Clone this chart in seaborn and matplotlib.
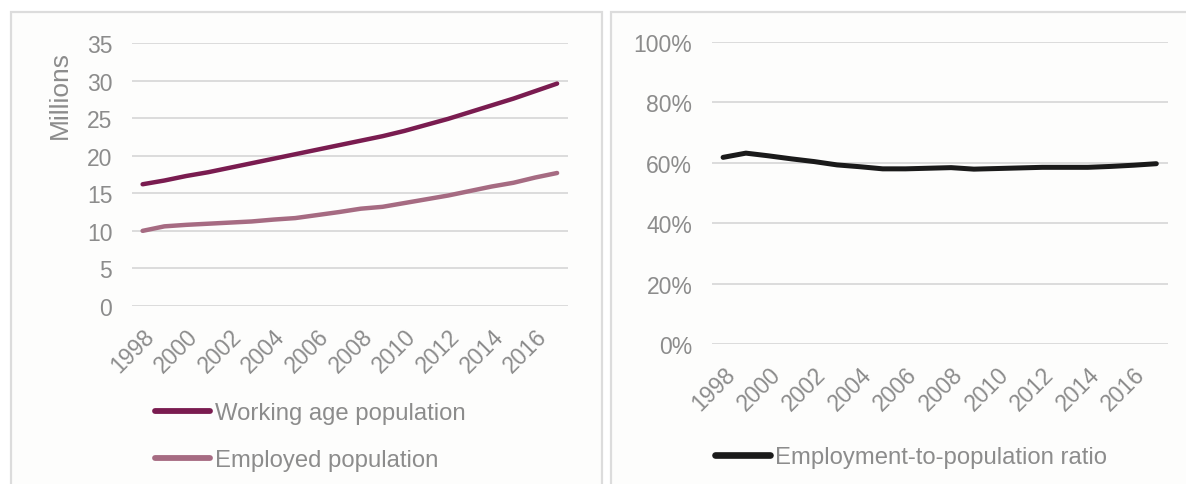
import matplotlib
matplotlib.use("Agg")
import matplotlib.pyplot as plt
from matplotlib.patches import Rectangle
from matplotlib.ticker import FuncFormatter, MultipleLocator
import numpy as np
import pandas as pd
import seaborn as sns

years = list(range(1998, 2018))
working_age = [16.2, 16.7, 17.3, 17.8, 18.4, 19.0, 19.6, 20.2, 20.8, 21.4,
               22.0, 22.6, 23.3, 24.1, 24.9, 25.8, 26.7, 27.6, 28.6, 29.6]
employed = [10.0, 10.6, 10.8, 10.95, 11.1, 11.25, 11.5, 11.7, 12.1, 12.5,
            12.95, 13.2, 13.7, 14.2, 14.7, 15.3, 15.9, 16.4, 17.1, 17.7]
ratio = [61.8, 63.2, 62.3, 61.3, 60.4, 59.3, 58.7, 58.0, 58.0, 58.2,
         58.4, 57.9, 58.1, 58.3, 58.5, 58.5, 58.5, 58.8, 59.2, 59.7]
tick_labels = [str(y) for y in years[::2]]

C_WORK = "#7a1c50"
C_EMP = "#a66b82"
C_RATIO = "#1a1a1a"
C_TEXT = "#8c8c8c"
C_GRID = "#d9d9d9"

sns.set_style("white")
plt.rcParams["font.family"] = ["Liberation Sans", "DejaVu Sans"]

W, H = 1186, 485
fig = plt.figure(figsize=(W / 100, H / 100), dpi=100)
fig.patch.set_facecolor("white")

# panel frames
for x0, x1 in [(11, 602), (611, 1200)]:
    fig.add_artist(Rectangle((x0 / W, 0 - 0.05), (x1 - x0) / W, (H - 13) / H + 0.05,
                             transform=fig.transFigure, facecolor="#fdfdfc",
                             edgecolor="#dcdcdc", linewidth=1.6, zorder=0))

pop = pd.DataFrame({
    "idx": list(range(len(years))) * 2,
    "value": working_age + employed,
    "series": ["Working age population"] * len(years) + ["Employed population"] * len(years),
})
rat = pd.DataFrame({"idx": range(len(years)), "value": ratio,
                    "series": "Employment-to-population ratio"})

TICK_FS = 16.5
LEG_FS = 17.2

def style_axis(ax):
    ax.set_facecolor("none")
    for s in ax.spines.values():
        s.set_visible(False)
    ax.grid(axis="y", color=C_GRID, linewidth=1.3)
    ax.grid(axis="x", visible=False)
    ax.set_axisbelow(True)
    ax.set_xlim(-0.5, len(years) - 0.5)
    ax.set_xticks(range(0, len(years), 2))
    ax.set_xticklabels(tick_labels, rotation=45, ha="right", rotation_mode="anchor")
    ax.tick_params(axis="both", length=0, labelsize=TICK_FS, labelcolor=C_TEXT)
    ax.tick_params(axis="x", pad=13)
    ax.tick_params(axis="y", pad=14)
    ax.set_xlabel("")

# left panel
ax1 = fig.add_axes([131.7 / W, (H - 307) / H, 436.3 / W, 263 / H])
sns.lineplot(data=pop, x="idx", y="value", hue="series",
             palette=[C_WORK, C_EMP], linewidth=3.2, ax=ax1, legend=False)
ax1.set_ylim(0, 35)
ax1.yaxis.set_major_locator(MultipleLocator(5))
style_axis(ax1)
ax1.set_ylabel("Millions", fontsize=19, color=C_TEXT)
ax1.yaxis.set_label_coords(-0.136, 0.806)

# right panel
ax2 = fig.add_axes([711.7 / W, (H - 345) / H, 456 / W, 302 / H])
sns.lineplot(data=rat, x="idx", y="value", color=C_RATIO, linewidth=3.6,
             ax=ax2, legend=False)
ax2.set_ylim(0, 100)
ax2.yaxis.set_major_locator(MultipleLocator(20))
ax2.yaxis.set_major_formatter(FuncFormatter(lambda v, p: f"{v:.0f}%"))
style_axis(ax2)
ax2.set_ylabel("")

# legends
h1 = [plt.Line2D([], [], color=C_WORK, lw=4.2, solid_capstyle="round"),
      plt.Line2D([], [], color=C_EMP, lw=4.2, solid_capstyle="round")]
leg1 = fig.legend(h1, ["Working age population", "Employed population"],
                  loc="upper left", bbox_to_anchor=(155 / W, (H - 403) / H),
                  frameon=False, fontsize=LEG_FS, handlelength=2.3, handletextpad=0.2,
                  labelspacing=1.05, borderpad=0, borderaxespad=0)
for t in leg1.get_texts():
    t.set_color(C_TEXT)

h2 = [plt.Line2D([], [], color=C_RATIO, lw=4.8, solid_capstyle="round")]
leg2 = fig.legend(h2, ["Employment-to-population ratio"],
                  loc="upper left", bbox_to_anchor=(715 / W, (H - 447) / H),
                  frameon=False, fontsize=LEG_FS, handlelength=2.3, handletextpad=0.2,
                  borderpad=0, borderaxespad=0)
for t in leg2.get_texts():
    t.set_color(C_TEXT)

fig.savefig("out.png", dpi=100)
